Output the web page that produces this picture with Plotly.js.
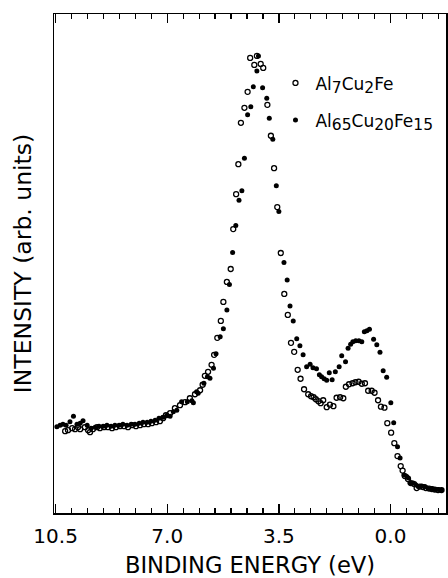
<!DOCTYPE html>
<html>
<head>
<meta charset="utf-8">
<script src="https://cdn.plot.ly/plotly-3.0.1.min.js"></script>
<style>html,body{margin:0;padding:0;background:#fff;}#chart{width:448px;height:578px;}</style>
</head>
<body>
<div id="chart"></div>
<script>
// Al7Cu2Fe (open circles)
const energyA = [10.20,10.11,9.98,9.89,9.80,9.73,9.58,9.48,9.42,9.33,9.20,9.11,8.98,8.86,8.73,8.61,8.48,8.35,8.23,8.10,7.98,7.85,7.73,7.60,7.48,7.35,7.23,7.13,7.04,6.91,6.76,6.60,6.44,6.29,6.13,5.97,5.89,5.82,5.72,5.61,5.53,5.43,5.32,5.24,5.13,5.01,4.93,4.84,4.77,4.69,4.58,4.48,4.40,4.27,4.19,4.07,3.99,3.86,3.75,3.65,3.55,3.44,3.33,3.22,3.12,3.02,2.91,2.82,2.71,2.58,2.49,2.41,2.34,2.26,2.19,2.11,2.00,1.90,1.79,1.69,1.58,1.48,1.40,1.30,1.19,1.10,1.00,0.90,0.80,0.70,0.59,0.50,0.39,0.30,0.19,0.10,-0.02,-0.12,-0.22,-0.32,-0.38,-0.45,-0.55,-0.64,-0.74,-0.82,-0.92,-1.02,-1.11,-1.21,-1.30,-1.39,-1.49,-1.60];
const intensityA = [16.4,16.6,17.0,16.8,17.2,16.8,17.2,16.6,16.2,16.8,17.2,17.0,17.2,17.2,17.0,17.2,17.4,17.4,17.2,17.6,17.4,17.6,17.8,17.8,18.0,18.2,18.4,19.0,19.6,20.0,21.0,21.6,22.2,23.0,23.8,24.6,25.7,27.5,28.3,29.7,31.7,35.1,38.5,42.3,46.3,48.9,56.9,63.9,69.9,78.2,81.2,84.4,91.2,89.8,91.6,90.0,89.2,81.8,75.6,69.1,61.3,52.1,43.9,39.7,34.1,32.3,28.7,26.9,24.8,23.8,23.4,23.2,22.8,22.4,22.0,22.6,21.2,21.7,21.4,23.1,23.2,23.0,25.3,25.8,26.0,26.2,26.3,25.9,26.0,24.5,24.5,24.1,22.6,21.3,21.1,18.0,16.1,14.0,11.4,9.4,8.5,7.4,6.8,6.0,5.8,5.0,5.3,5.2,5.0,4.9,4.8,4.7,4.6,4.6];

// Al65Cu20Fe15 (filled circles)
const energyB = [10.46,10.36,10.27,10.17,10.05,9.94,9.83,9.73,9.64,9.51,9.39,9.26,9.14,9.01,8.89,8.76,8.64,8.51,8.39,8.26,8.13,8.01,7.88,7.76,7.63,7.51,7.38,7.26,7.13,7.01,6.91,6.81,6.70,6.55,6.37,6.23,6.18,6.08,6.03,5.85,5.74,5.66,5.55,5.47,5.34,5.24,5.13,5.05,4.95,4.85,4.75,4.66,4.58,4.48,4.38,4.30,4.19,4.14,4.01,3.88,3.80,3.69,3.58,3.50,3.34,3.24,3.15,3.05,2.94,2.84,2.74,2.63,2.52,2.43,2.32,2.23,2.16,2.08,2.00,1.92,1.83,1.73,1.61,1.53,1.41,1.33,1.25,1.18,1.09,0.99,0.90,0.82,0.74,0.66,0.53,0.43,0.33,0.23,0.12,-0.01,-0.10,-0.22,-0.30,-0.42,-0.51,-0.56,-0.61,-0.71,-0.80,-0.87,-0.98,-1.08,-1.18,-1.29,-1.39,-1.50,-1.60];
const intensityB = [17.3,17.6,17.8,17.6,18.3,19.4,17.8,18.0,18.5,17.6,17.0,17.2,17.4,17.4,17.6,17.4,17.6,17.6,17.8,17.6,17.8,17.8,18.0,18.2,18.2,18.4,18.6,19.0,19.2,19.6,19.4,20.3,20.6,22.3,22.3,22.5,22.1,24.3,24.0,26.0,27.3,27.0,29.0,31.9,35.3,36.9,40.7,45.8,52.2,57.6,62.7,64.6,71.1,79.8,81.4,85.4,88.6,91.6,85.2,83.1,79.1,74.9,65.6,60.4,50.2,46.7,41.5,38.5,34.9,33.5,31.7,29.3,29.8,29.1,28.9,27.7,27.3,26.9,26.6,28.1,26.7,28.3,29.3,31.5,30.3,33.0,33.8,34.3,34.5,34.5,34.3,36.3,36.5,36.8,34.8,33.7,32.2,28.5,27.2,22.1,18.1,13.3,11.0,7.6,7.3,7.0,6.0,6.0,5.6,5.3,5.4,5.3,4.9,4.9,4.7,4.7,4.6];

const tickVals = [10.5, 7.0, 3.5, 0.0];
const tickText = ['10.5', '7.0', '3.5', '0.0'];
const minorStep = 0.5;
const sub = s => '<sub><span style="font-size:15.5px">' + s + '</span></sub>';
const nameA = 'Al' + sub('7') + 'Cu' + sub('2') + 'Fe';
const nameB = 'Al' + sub('65') + 'Cu' + sub('20') + 'Fe' + sub('15');

const xRange = [10.55, -1.74];

const traces = [
  {x: energyA, y: intensityA, name: nameA, type: 'scatter', mode: 'markers', legendgroup: 'a',
   marker: {symbol: 'circle-open', size: 5, color: '#000', line: {width: 1.3, color: '#000'}}},
  {x: energyB, y: intensityB, name: nameB, type: 'scatter', mode: 'markers', legendgroup: 'b',
   marker: {symbol: 'circle', size: 5, color: '#000'}}
];

const layout = {
  width: 448, height: 578,
  margin: {l: 54, r: 2, t: 14, b: 65},
  paper_bgcolor: '#fff', plot_bgcolor: '#fff',
  font: {family: 'DejaVu Sans, sans-serif', color: '#000', size: 20},
  showlegend: true,
  legend: {x: 0.565, y: 0.897, xanchor: 'left', yanchor: 'top', bgcolor: 'rgba(0,0,0,0)',
           font: {size: 17, color: '#000'}, tracegroupgap: 12, itemsizing: 'trace'},
  xaxis: {
    range: xRange, showgrid: false, zeroline: false,
    showline: true, linecolor: '#000', linewidth: 1.5, mirror: 'ticks',
    ticks: 'inside', ticklen: 9, tickwidth: 1.4, tickcolor: '#000',
    tickmode: 'array', tickvals: tickVals, ticktext: tickText,
    tickfont: {size: 20}, ticklabelstandoff: 4,
    title: {text: 'BINDING ENERGY (eV)', font: {size: 22.6}, standoff: 12}
  },
  // overlay axis carrying the 0.5 eV minor ticks (bottom and mirrored top)
  xaxis2: {
    overlaying: 'x', matches: 'x', range: xRange, anchor: 'y',
    showgrid: false, zeroline: false, showline: false, mirror: 'ticks',
    ticks: 'inside', ticklen: 5, tickwidth: 1.2, tickcolor: '#000',
    tickmode: 'linear', tick0: 0, dtick: minorStep, showticklabels: false
  },
  yaxis: {
    range: [0, 100], showgrid: false, zeroline: false,
    showline: true, linecolor: '#000', linewidth: 1.5, mirror: true,
    ticks: '', showticklabels: false,
    title: {text: 'INTENSITY (arb. units)', font: {size: 23.5}, standoff: 14}
  }
};

// empty helper trace so the minor-tick overlay axis is drawn
traces.push({x: [], y: [], xaxis: 'x2', yaxis: 'y', showlegend: false, hoverinfo: 'skip', type: 'scatter', mode: 'markers'});

Plotly.newPlot('chart', traces, layout, {displayModeBar: false, staticPlot: true});
</script>
</body>
</html>
